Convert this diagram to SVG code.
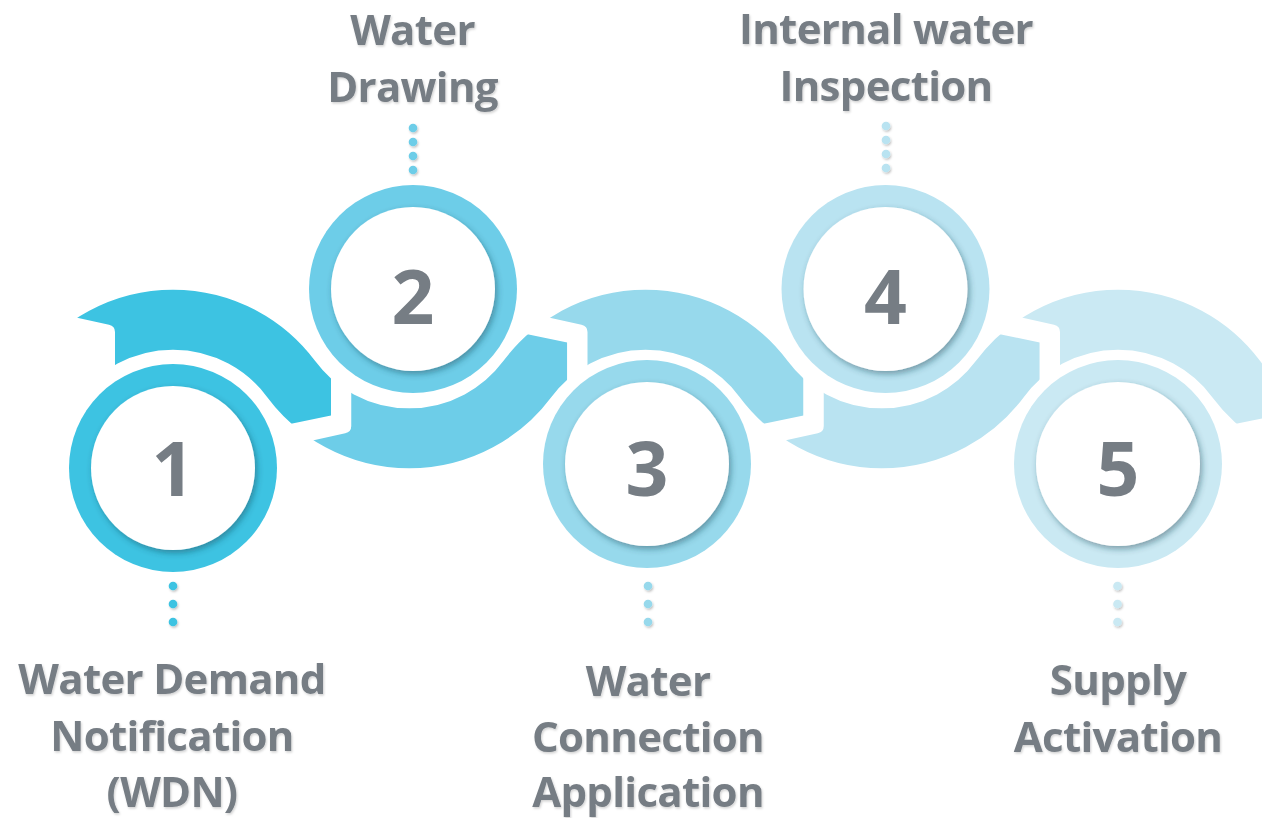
<svg xmlns="http://www.w3.org/2000/svg" xmlns:xlink="http://www.w3.org/1999/xlink" width="1262" height="818" viewBox="0 0 1262 818">
<style>
.lbl{font-family:"Open Sans","Liberation Sans",sans-serif;font-weight:700;font-size:42px;letter-spacing:-0.7px;fill:#767d84;text-anchor:middle;filter:url(#tsh)}
.num{font-family:"Open Sans","Liberation Sans",sans-serif;font-weight:700;font-size:75px;fill:#767d84;text-anchor:middle}
.inner{fill:#ffffff;filter:url(#csh)}
.dot{filter:url(#dsh)}
</style>
<defs>
<filter id="csh" x="-20%" y="-20%" width="140%" height="140%"><feDropShadow dx="2" dy="3" stdDeviation="3" flood-color="#1d3f50" flood-opacity="0.45"/></filter>
<filter id="dsh" x="-60%" y="-60%" width="220%" height="220%"><feDropShadow dx="1" dy="1.5" stdDeviation="1" flood-color="#000" flood-opacity="0.25"/></filter>
<filter id="tsh" x="-5%" y="-10%" width="110%" height="130%"><feDropShadow dx="1" dy="1.5" stdDeviation="1" flood-color="#000" flood-opacity="0.18"/></filter>
<path id="wave" fill="none" stroke-width="60" d="M-236.25,-28.7 A147.3,147.3 0 0 0 -118.125,-88 A147.3,147.3 0 0 1 118.125,-88 A147.3,147.3 0 0 0 236.25,-28.7"/>
<clipPath id="bandClip"><path d="M-58,-7 L-58,-135 Q-58,-141 -64,-142.3 L-200,-172.3 L-200,-260 L158,-260 L158,-51.5 L123,-44.3 L0,-19 Z"/></clipPath>
</defs>
<g id="connectors">
<g transform="translate(173,467)"><use href="#wave" xlink:href="#wave" stroke="#3dc3e2" clip-path="url(#bandClip)"/></g>
<g transform="translate(409.25,291) scale(1,-1)"><use href="#wave" xlink:href="#wave" stroke="#6dcde8" clip-path="url(#bandClip)"/></g>
<g transform="translate(645.5,467)"><use href="#wave" xlink:href="#wave" stroke="#97d9ec" clip-path="url(#bandClip)"/></g>
<g transform="translate(881.75,291) scale(1,-1)"><use href="#wave" xlink:href="#wave" stroke="#b9e3f1" clip-path="url(#bandClip)"/></g>
<g transform="translate(1118,467)"><use href="#wave" xlink:href="#wave" stroke="#cae9f3" clip-path="url(#bandClip)"/></g>
</g>
<g id="node1">
<circle cx="173" cy="468" r="104" fill="#3dc3e2"/>
<circle class="inner" cx="173" cy="468" r="82"/>
<text class="num" x="173" y="496">1</text>
<g fill="#3dc3e2"><circle class="dot" cx="173" cy="586" r="4.3"/><circle class="dot" cx="173" cy="604" r="4.3"/><circle class="dot" cx="173" cy="622" r="4.3"/></g>
<text class="lbl" x="172" y="694">Water Demand</text>
<text class="lbl" x="172" y="751">Notification</text>
<text class="lbl" x="172" y="807">(WDN)</text>
</g>
<g id="node2">
<circle cx="413" cy="289" r="104" fill="#6dcde8"/>
<circle class="inner" cx="413" cy="289" r="82"/>
<text class="num" x="413" y="324">2</text>
<g fill="#6dcde8"><circle class="dot" cx="413" cy="128" r="4.3"/><circle class="dot" cx="413" cy="142" r="4.3"/><circle class="dot" cx="413" cy="156" r="4.3"/><circle class="dot" cx="413" cy="170" r="4.3"/></g>
<text class="lbl" x="412.5" y="45">Water</text>
<text class="lbl" x="412.5" y="102">Drawing</text>
</g>
<g id="node3">
<circle cx="647" cy="464" r="104" fill="#97d9ec"/>
<circle class="inner" cx="647" cy="464" r="82"/>
<text class="num" x="647" y="496">3</text>
<g fill="#97d9ec"><circle class="dot" cx="648" cy="586" r="4.3"/><circle class="dot" cx="648" cy="604" r="4.3"/><circle class="dot" cx="648" cy="622" r="4.3"/></g>
<text class="lbl" x="648" y="696">Water</text>
<text class="lbl" x="648" y="752">Connection</text>
<text class="lbl" x="648" y="807">Application</text>
</g>
<g id="node4">
<circle cx="885.5" cy="289" r="104" fill="#b9e3f1"/>
<circle class="inner" cx="885.5" cy="289" r="82"/>
<text class="num" x="885.5" y="324">4</text>
<g fill="#b9e3f1"><circle class="dot" cx="886" cy="126" r="4.3"/><circle class="dot" cx="886" cy="140" r="4.3"/><circle class="dot" cx="886" cy="154" r="4.3"/><circle class="dot" cx="886" cy="168" r="4.3"/></g>
<text class="lbl" x="886" y="44">Internal water</text>
<text class="lbl" x="886" y="101">Inspection</text>
</g>
<g id="node5">
<circle cx="1118" cy="464" r="104" fill="#cae9f3"/>
<circle class="inner" cx="1118" cy="464" r="82"/>
<text class="num" x="1118" y="496">5</text>
<g fill="#cae9f3"><circle class="dot" cx="1117.5" cy="586" r="4.3"/><circle class="dot" cx="1117.5" cy="604" r="4.3"/><circle class="dot" cx="1117.5" cy="622" r="4.3"/></g>
<text class="lbl" x="1118" y="695">Supply</text>
<text class="lbl" x="1118" y="752">Activation</text>
</g>
</svg>
